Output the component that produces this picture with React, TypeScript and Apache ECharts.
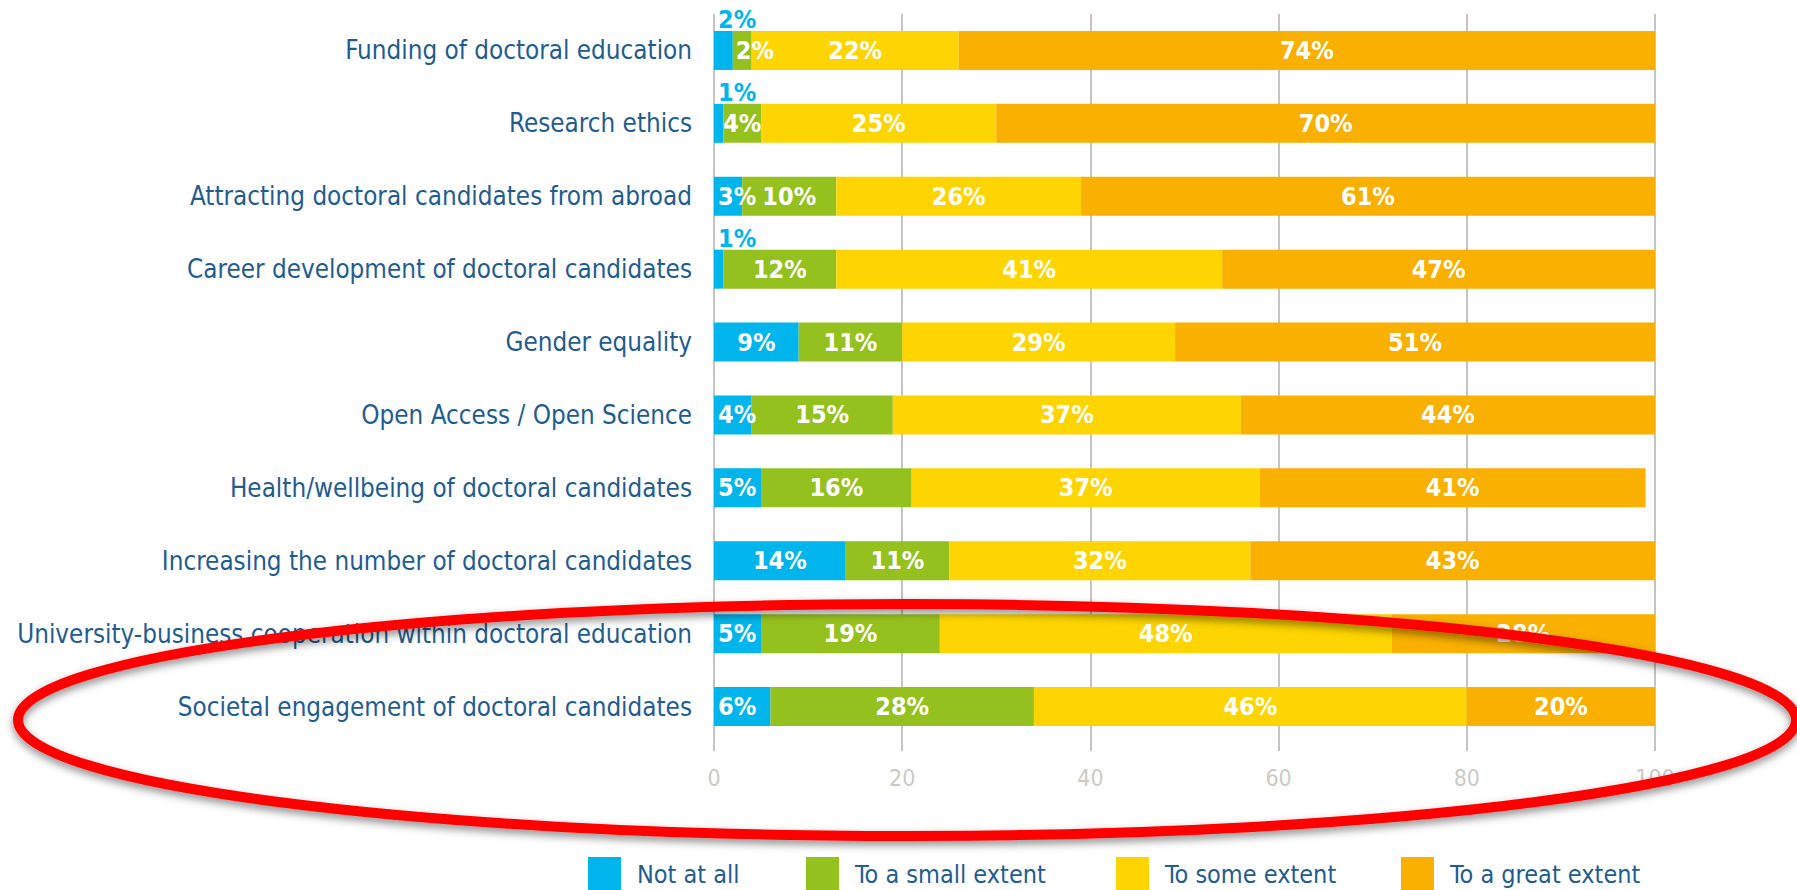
import React, { useEffect, useRef } from "react";
import * as echarts from "echarts";

const categories = [
  "Funding of doctoral education",
  "Research ethics",
  "Attracting doctoral candidates from abroad",
  "Career development of doctoral candidates",
  "Gender equality",
  "Open Access / Open Science",
  "Health/wellbeing of doctoral candidates",
  "Increasing the number of doctoral candidates",
  "University-business cooperation within doctoral education",
  "Societal engagement of doctoral candidates",
];

const seriesNames = ["Not at all", "To a small extent", "To some extent", "To a great extent"];
const notAtAll = [2, 1, 3, 1, 9, 4, 5, 14, 5, 6];
const smallExtent = [2, 4, 10, 12, 11, 15, 16, 11, 19, 28];
const someExtent = [22, 25, 26, 41, 29, 37, 37, 32, 48, 46];
const greatExtent = [74, 70, 61, 47, 51, 44, 41, 43, 28, 20];
const xTicks = [0, 20, 40, 60, 80, 100];

const colors = ["#00b5ec", "#95c11f", "#fed500", "#f9b000"];
const FONT = "'DejaVu Sans Condensed', 'Liberation Sans Narrow', 'Roboto Condensed', 'Open Sans', sans-serif";
const TEXT_BLUE = "#1f5c8f";

export default function App() {
  const ref = useRef<HTMLDivElement>(null);
  useEffect(() => {
    if (!ref.current) return;
    const chart = echarts.init(ref.current, null, { renderer: "svg" });
    const valueSets = [notAtAll, smallExtent, someExtent, greatExtent];

    const series = valueSets.map((vals, si) => ({
      name: seriesNames[si],
      type: "bar",
      stack: "total",
      barWidth: 39,
      itemStyle: { color: colors[si] },
      label: {
        show: true,
        position: "inside",
        color: "#ffffff",
        fontFamily: FONT,
        fontWeight: "bold",
        fontSize: 25,
        formatter: (p: any) => p.value + "%",
      },
      data: vals.map((v) => {
        if (si === 0 && v <= 2) {
          return {
            value: v,
            label: {
              position: [4, 1],
              align: "left",
              verticalAlign: "bottom",
              color: colors[0],
            },
          };
        }
        if (si === 0 && v <= 6) {
          return { value: v, label: { position: "insideLeft", distance: 4 } };
        }
        if (si === 1 && v <= 2) {
          return { value: v, label: { position: "insideLeft", distance: 3 } };
        }
        return v;
      }),
    }));

    const legendLefts = [588, 806, 1116, 1401];

    chart.setOption({
      animation: false,
      grid: { left: 714, right: 142, top: 14, height: 729, containLabel: false },
      xAxis: {
        type: "value",
        min: 0,
        max: 100,
        interval: 20,
        data: xTicks,
        axisLine: { show: false },
        axisTick: { show: true, length: 8, lineStyle: { color: "#c4c4c4", width: 2 } },
        splitLine: { show: true, lineStyle: { color: "#c4c4c4", width: 2 } },
        axisLabel: { color: "#cdcac4", fontSize: 23, fontFamily: FONT, margin: 23 },
      },
      yAxis: {
        type: "category",
        inverse: true,
        data: categories,
        axisLine: { show: false },
        axisTick: { show: false },
        axisLabel: { color: TEXT_BLUE, fontSize: 25.8, fontFamily: FONT, margin: 22 },
      },
      legend: seriesNames.map((n, i) => ({
        data: [{ name: n, icon: "rect" }],
        left: legendLefts[i],
        top: 857,
        padding: 0,
        itemWidth: 33,
        itemHeight: 34,
        textStyle: {
          color: TEXT_BLUE,
          fontSize: 25,
          lineHeight: 26,
          fontFamily: FONT,
          padding: [0, 0, 0, 11],
        },
      })),
      graphic: [
        {
          type: "ellipse",
          x: 907,
          y: 720,
          rotation: 0,
          shape: { cx: 0, cy: 0, rx: 889, ry: 116 },
          style: {
            fill: "none",
            stroke: "#ff0000",
            lineWidth: 10,
            shadowBlur: 8,
            shadowColor: "rgba(0,0,0,0.45)",
            shadowOffsetY: 4,
          },
          z: 100,
        },
      ],
      series,
    });
    return () => chart.dispose();
  }, []);
  return (
    <div
      ref={ref}
      style={{ position: "fixed", left: 0, top: 0, width: 1797, height: 890, background: "#ffffff" }}
    />
  );
}
